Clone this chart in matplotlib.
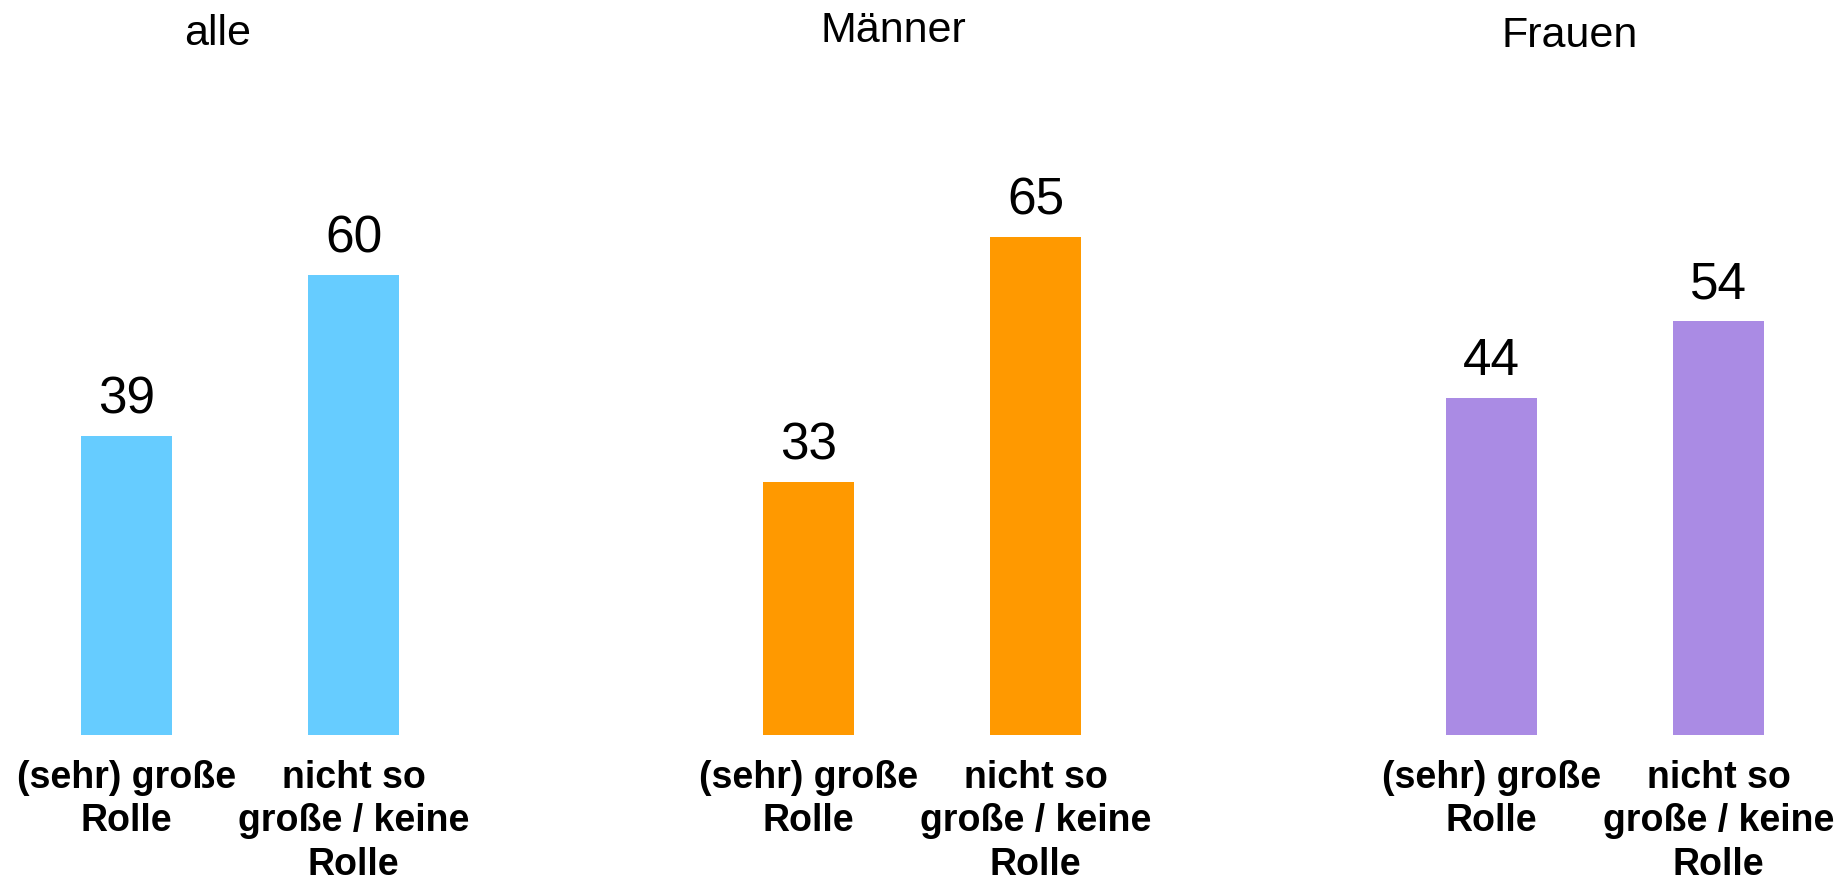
import matplotlib
matplotlib.use("Agg")
import matplotlib.pyplot as plt

plt.rcParams['font.family'] = ['Liberation Sans', 'DejaVu Sans']

# Daten
gruppen = ['alle', 'Männer', 'Frauen']
kategorien = ['(sehr) große\nRolle', 'nicht so\ngroße / keine\nRolle']
werte_alle = [39, 60]
werte_maenner = [33, 65]
werte_frauen = [44, 54]
farben = ['#66CCFF', '#FF9900', '#AA8BE4']

W, H = 1848, 880
fig = plt.figure(figsize=(W / 100, H / 100), dpi=100)

# Position der Panels in Pixeln (links, unten), Breite/Höhe
panel_left = [13, 695, 1378]
panel_w, panel_h = 454, 613
baseline_px = 735
# Titel-Lage (x in Achsenbruchteil, y in Achsenbruchteil)
titel_pos = [(0.4515, 1.1256), (0.438, 1.1305), (0.423, 1.1223)]

alle_werte = [werte_alle, werte_maenner, werte_frauen]

for i, (name, werte, farbe) in enumerate(zip(gruppen, alle_werte, farben)):
    ax = fig.add_axes([panel_left[i] / W, (H - baseline_px) / H, panel_w / W, panel_h / H])
    x = range(len(kategorien))
    bars = ax.bar(x, werte, width=0.4, color=farbe)
    ax.set_xlim(-0.5, 1.5)
    ax.set_ylim(0, 80)
    for b, v in zip(bars, werte):
        ax.annotate(str(v), (b.get_x() + b.get_width() / 2, v), xytext=(0, 16.5),
                    textcoords='offset points', ha='center', va='baseline', fontsize=37)
    ax.set_xticks(list(x))
    ax.set_xticklabels(kategorien, fontsize=27, fontweight='bold', linespacing=1.26, va='top')
    ax.tick_params(axis='x', length=0, pad=18)
    ax.set_yticks([])
    for s in ax.spines.values():
        s.set_visible(False)
    tx, ty = titel_pos[i]
    ax.text(tx, ty, name, transform=ax.transAxes, ha='center', va='baseline', fontsize=31)

fig.savefig('out.png', dpi=100)
